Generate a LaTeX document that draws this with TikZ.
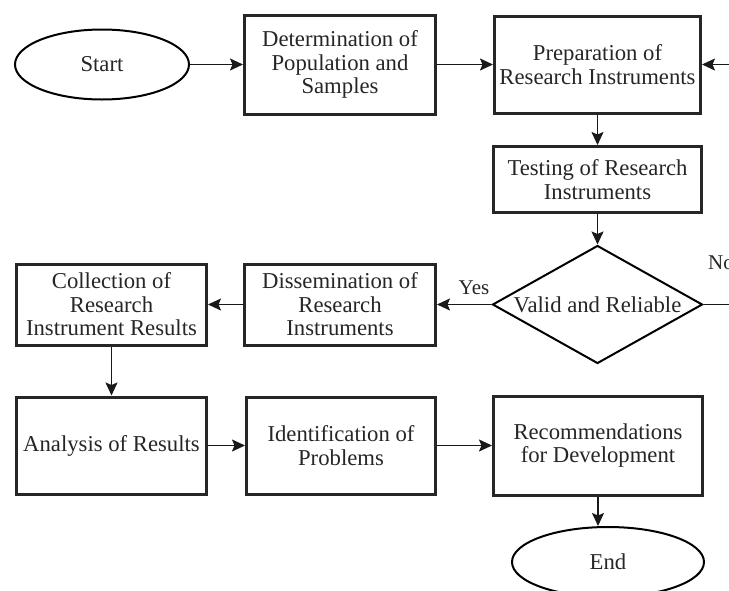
\documentclass[tikz,border=0pt]{standalone}
\usepackage{fontspec}
\setmainfont{Liberation Serif}
\usetikzlibrary{shapes.geometric,arrows.meta}
\begin{document}
\begin{tikzpicture}[x=1pt,y=-1pt,
  txt/.style={text=black!85, font=\fontsize{22.7}{23.5}\selectfont},
  box/.style={txt, draw=black!85, line width=3pt, fill=white, align=center, inner sep=0pt},
  term/.style={txt, ellipse, draw=black, line width=2pt, inner sep=0pt},
  decision/.style={txt, diamond, draw=black, line width=2pt, inner sep=0pt},
  arr/.style={-{Stealth[length=13pt,width=12pt,inset=2.5pt]}, line width=1.6pt, draw=black!90},
  plain/.style={line width=1.6pt, draw=black!90},
  lbl/.style={text=black!85, font=\fontsize{21}{24}\selectfont, inner sep=0pt}]
\useasboundingbox (0,0) rectangle (729,590);
\clip (0,0) rectangle (729,590);

\node[term, minimum width=174pt, minimum height=70pt] (start) at (102,64.5) {Start};
\node[box, minimum width=191pt, minimum height=99pt] (det) at (340,64.5) {Determination of\\Population and\\Samples};
\node[box, minimum width=206pt, minimum height=97pt] (prep) at (597.5,64.5) {Preparation of\\Research Instruments};
\node[box, minimum width=208pt, minimum height=66pt] (test) at (597.5,179.5) {Testing of Research\\Instruments};
\node[decision, minimum width=210pt, minimum height=118pt] (dia) at (597.5,304.5) {\makebox[0pt]{Valid and Reliable}};
\node[box, minimum width=191pt, minimum height=81pt] (dis) at (340,304.5) {Dissemination of\\Research\\Instruments};
\node[box, minimum width=190pt, minimum height=81pt] (col) at (111.5,304.5) {Collection of\\Research\\Instrument Results};
\node[box, minimum width=190pt, minimum height=97pt] (ana) at (111.5,445.5) {Analysis of Results};
\node[box, minimum width=189pt, minimum height=97pt] (idf) at (341,445.5) {Identification of\\Problems};
\node[box, minimum width=209pt, minimum height=99pt] (rec) at (598,445.5) {Recommendations\\for Development};
\node[term, minimum width=192pt, minimum height=70pt] (end) at (608,562) {End};

\coordinate (rin) at (745,64.5);
\coordinate (rout) at (745,304.5);

\draw[arr] (start) -- (det);
\draw[arr] (det) -- (prep);
\draw[arr] (rin) -- (prep);
\draw[arr] (prep) -- (test);
\draw[arr] (test) -- (dia);
\draw[arr] (dia) -- (dis);
\draw[plain] (dia) -- (rout);
\draw[arr] (dis) -- (col);
\draw[arr] (col) -- (ana);
\draw[arr] (ana) -- (idf);
\draw[arr] (idf) -- (rec);
\draw[arr] (rec.south) -- (rec.south |- end.north);

\node[lbl] (yes) at (474,288) {Yes};
\node[lbl, anchor=west] (no) at (708,263) {No};
\end{tikzpicture}
\end{document}
